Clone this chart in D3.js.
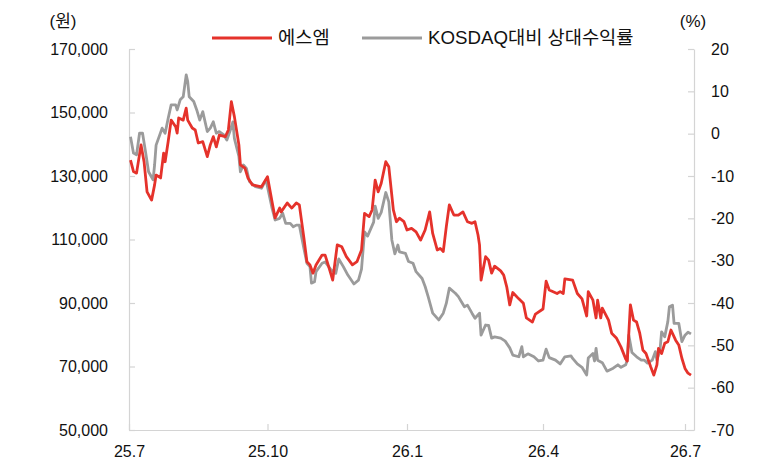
<!DOCTYPE html>
<html><head><meta charset="utf-8">
<script src="https://cdn.jsdelivr.net/npm/d3@7"></script>
<style>
body{margin:0;background:#fff}
svg text{font-family:"Liberation Sans",Arial,sans-serif;fill:#111}
</style>
</head><body>
<svg id="c" width="769" height="472"></svg>
<script>
// ---- data ----
const seriesNames = ["에스엠", "KOSDAQ대비 상대수익률"];

const redDates = ["2025-07-02","2025-07-04","2025-07-06","2025-07-09","2025-07-11","2025-07-13","2025-07-16","2025-07-18","2025-07-19","2025-07-22",
"2025-07-24","2025-07-25","2025-07-27","2025-07-29","2025-08-01","2025-08-02","2025-08-03","2025-08-06","2025-08-08","2025-08-09",
"2025-08-12","2025-08-14","2025-08-16","2025-08-19","2025-08-22","2025-08-24","2025-08-26","2025-08-28","2025-08-30","2025-09-03",
"2025-09-05","2025-09-07","2025-09-09","2025-09-12","2025-09-13","2025-09-16","2025-09-18","2025-09-21","2025-09-27","2025-10-01",
"2025-10-04","2025-10-06","2025-10-09","2025-10-10","2025-10-14","2025-10-17","2025-10-20","2025-10-22","2025-10-25","2025-10-27",
"2025-10-29","2025-10-31","2025-11-02","2025-11-06","2025-11-08","2025-11-10","2025-11-13","2025-11-16","2025-11-19","2025-11-22",
"2025-11-26","2025-11-29","2025-12-02","2025-12-04","2025-12-07","2025-12-09","2025-12-11","2025-12-13","2025-12-15","2025-12-18",
"2025-12-20","2025-12-23","2025-12-25","2025-12-27","2025-12-30","2026-01-01","2026-01-04","2026-01-07","2026-01-10","2026-01-13",
"2026-01-16","2026-01-18","2026-01-21","2026-01-23","2026-01-25","2026-01-27","2026-01-29","2026-02-01","2026-02-04","2026-02-07",
"2026-02-10","2026-02-13","2026-02-15","2026-02-17","2026-02-18","2026-02-19","2026-02-22","2026-02-24","2026-02-26","2026-02-28",
"2026-03-04","2026-03-06","2026-03-08","2026-03-10","2026-03-12","2026-03-16","2026-03-19","2026-03-21","2026-03-25","2026-03-27",
"2026-04-01","2026-04-03","2026-04-05","2026-04-10","2026-04-12","2026-04-14","2026-04-15","2026-04-20","2026-04-23","2026-04-26",
"2026-04-29","2026-04-30","2026-05-03","2026-05-05","2026-05-06","2026-05-08","2026-05-09","2026-05-13","2026-05-15","2026-05-18",
"2026-05-21","2026-05-24","2026-05-25","2026-05-27","2026-05-29","2026-05-31","2026-06-02","2026-06-04","2026-06-06","2026-06-09",
"2026-06-11","2026-06-13","2026-06-14","2026-06-16","2026-06-18","2026-06-20","2026-06-22","2026-06-25","2026-06-27","2026-06-29",
"2026-07-01","2026-07-03","2026-07-05"];
const redValues = [135000,131400,130900,139800,134500,125000,122400,127200,130300,129400,
137200,134500,140800,147600,145500,143500,148300,147600,151400,147600,
145100,144500,140400,140800,136100,139800,142400,139200,142900,142400,
144500,153400,148700,139800,133500,132500,129400,127200,126600,129800,
121900,116800,119900,118700,121500,119900,121500,120900,110500,103000,
102000,99400,102000,105100,105100,102000,97200,108300,107700,104600,
102000,103000,106700,118200,117200,119300,128700,125000,127700,134500,
132900,119300,115600,116700,115600,113000,113500,112400,109800,113000,
118700,111900,106700,107200,106200,114000,120900,117700,117700,118700,
115600,115100,115600,111400,108300,97200,104600,103500,99400,101600,
100100,98800,95100,89400,93300,91300,89900,85300,84000,86500,
88100,96900,94100,93000,93600,93000,97600,97200,93000,91300,
85900,93600,90900,85300,90900,85300,88400,84600,80500,79000,
76100,72400,71700,89400,84600,84000,80500,75200,74100,69900,
67300,70500,75700,74100,77300,77800,81500,78300,76800,72600,
69400,67900,67300];

const grayDates = ["2025-07-02","2025-07-04","2025-07-06","2025-07-08","2025-07-10","2025-07-12","2025-07-14","2025-07-17","2025-07-18","2025-07-19",
"2025-07-23","2025-07-25","2025-07-27","2025-07-29","2025-08-01","2025-08-02","2025-08-04","2025-08-06","2025-08-08","2025-08-09",
"2025-08-10","2025-08-13","2025-08-15","2025-08-17","2025-08-19","2025-08-22","2025-08-24","2025-08-26","2025-08-28","2025-08-30",
"2025-09-02","2025-09-04","2025-09-06","2025-09-08","2025-09-09","2025-09-12","2025-09-13","2025-09-15","2025-09-17","2025-09-19",
"2025-09-23","2025-09-27","2025-09-30","2025-10-04","2025-10-06","2025-10-09","2025-10-11","2025-10-13","2025-10-16","2025-10-18",
"2025-10-20","2025-10-22","2025-10-25","2025-10-27","2025-10-29","2025-10-30","2025-11-01","2025-11-02","2025-11-06","2025-11-08",
"2025-11-12","2025-11-15","2025-11-17","2025-11-20","2025-11-23","2025-11-27","2025-11-30","2025-12-02","2025-12-04","2025-12-06",
"2025-12-10","2025-12-11","2025-12-13","2025-12-15","2025-12-18","2025-12-20","2025-12-22","2025-12-24","2025-12-26","2025-12-27",
"2025-12-31","2026-01-02","2026-01-05","2026-01-07","2026-01-11","2026-01-13","2026-01-15","2026-01-18","2026-01-22","2026-01-25",
"2026-01-27","2026-01-29","2026-02-02","2026-02-04","2026-02-06","2026-02-08","2026-02-10","2026-02-13","2026-02-15","2026-02-18",
"2026-02-19","2026-02-22","2026-02-24","2026-02-26","2026-02-28","2026-03-04","2026-03-07","2026-03-10","2026-03-12","2026-03-16",
"2026-03-18","2026-03-19","2026-03-22","2026-03-26","2026-03-29","2026-04-01","2026-04-03","2026-04-05","2026-04-09","2026-04-12",
"2026-04-15","2026-04-19","2026-04-20","2026-04-23","2026-04-26","2026-04-29","2026-04-30","2026-05-03","2026-05-04","2026-05-05",
"2026-05-06","2026-05-09","2026-05-12","2026-05-16","2026-05-19","2026-05-21","2026-05-24","2026-05-25","2026-05-26","2026-05-28",
"2026-05-31","2026-06-03","2026-06-05","2026-06-07","2026-06-10","2026-06-12","2026-06-13","2026-06-15","2026-06-16","2026-06-18",
"2026-06-20","2026-06-21","2026-06-23","2026-06-24","2026-06-27","2026-06-29","2026-07-01","2026-07-03","2026-07-05"];
const grayValues = [-0.7,-4.6,-5.0,0.1,0.1,-4.3,-9.0,-10.9,-7.4,-2.7,
1.3,0.1,3.6,6.8,6.8,5.6,8.0,8.7,13.9,12.3,
8.7,7.6,5.6,3.2,5.2,0.5,1.3,2.8,0.1,0.5,
-0.3,-1.5,0.5,2.8,-1.1,-5.4,-9.0,-7.4,-8.2,-11.3,
-12.5,-12.9,-10.9,-17.6,-20.4,-20.0,-18.8,-21.2,-21.2,-22.0,
-21.6,-21.6,-27.1,-30.6,-31.4,-35.3,-35.0,-32.6,-30.6,-30.3,
-32.2,-33.0,-29.6,-31.4,-33.4,-35.5,-34.6,-32.0,-23.2,-24.2,
-20.9,-17.1,-20.0,-18.6,-13.9,-16.1,-25.1,-28.4,-26.3,-27.9,
-28.3,-30.2,-30.6,-32.6,-34.2,-36.1,-38.5,-42.4,-44.0,-42.4,
-40.1,-36.5,-37.7,-38.5,-39.7,-40.9,-40.5,-42.4,-43.6,-42.4,
-47.6,-45.2,-45.3,-48.3,-48.0,-48.3,-49.0,-50.6,-52.3,-52.7,
-50.3,-52.7,-52.0,-52.7,-53.7,-53.5,-50.9,-52.9,-53.5,-54.4,
-52.7,-52.5,-53.1,-54.4,-55.2,-57.0,-53.0,-51.9,-53.7,-50.7,
-53.5,-54.1,-56.1,-55.4,-54.6,-55.2,-54.6,-53.5,-47.6,-51.7,
-52.7,-53.5,-53.5,-54.2,-53.5,-51.5,-53.5,-51.1,-46.8,-48.0,
-44.4,-40.9,-40.5,-44.8,-44.8,-49.1,-47.6,-46.9,-47.3];

const xTickDates = ["2025-07-01","2025-10-01","2026-01-01","2026-04-01","2026-07-01"];
const xTickLabels = ["25.7","25.10","26.1","26.4","26.7"];
const leftTicks = [50000,70000,90000,110000,130000,150000,170000];
const rightTicks = [-70,-60,-50,-40,-30,-20,-10,0,10,20];
const leftUnit = "(원)", rightUnit = "(%)";

// ---- chart ----
const parse = d3.timeParse("%Y-%m-%d");
const svg = d3.select("#c");
const L = 129, R = 694, T = 49, B = 430;
const axisColor = "#d4d4d4";
const RED = "#e5322b", GRAY = "#9b9b9b";

const x = d3.scaleTime()
  .domain([...xTickDates.map(parse), parse("2026-07-07")])
  .range([L, 267.5, 407, 543, 685, R]);
const yL = d3.scaleLinear().domain([50000, 170000]).range([B, T]);
const yR = d3.scaleLinear().domain([-70, 20]).range([B, T]);

function styleAxis(g){
  g.selectAll(".domain").attr("stroke", axisColor).attr("stroke-width", 1.2);
  g.selectAll(".tick line").attr("stroke", axisColor).attr("stroke-width", 1.2);
  g.selectAll(".tick text").attr("font-size", 16).attr("fill", "#111")
    .attr("font-family", '"Liberation Sans",Arial,sans-serif');
}

svg.append("g").attr("transform", `translate(${L},0)`)
  .call(d3.axisLeft(yL).tickValues(leftTicks).tickSizeInner(-6).tickSizeOuter(0)
        .tickPadding(21).tickFormat(d3.format(",")))
  .call(styleAxis);

svg.append("g").attr("transform", `translate(${R},0)`)
  .call(d3.axisRight(yR).tickValues(rightTicks).tickSizeInner(-6).tickSizeOuter(0)
        .tickPadding(17).tickFormat(d => d))
  .call(styleAxis);

svg.append("g").attr("transform", `translate(0,${B})`)
  .call(d3.axisBottom(x).tickValues(xTickDates.map(parse)).tickSizeInner(-6).tickSizeOuter(0)
        .tickPadding(16).tickFormat((d, i) => xTickLabels[i]))
  .call(styleAxis);

svg.append("text").attr("x", 63).attr("y", 27).attr("text-anchor", "middle")
  .attr("font-size", 17).style("font-family", '"Liberation Sans","Noto Sans CJK KR",sans-serif').text(leftUnit);
svg.append("text").attr("x", 693).attr("y", 27).attr("text-anchor", "middle")
  .attr("font-size", 17).text(rightUnit);

const grayData = grayDates.map((d, i) => ({ d: parse(d), v: grayValues[i] }));
const redData = redDates.map((d, i) => ({ d: parse(d), v: redValues[i] }));

svg.append("path").datum(grayData)
  .attr("fill", "none").attr("stroke", GRAY).attr("stroke-width", 2.8)
  .attr("stroke-linejoin", "round")
  .attr("d", d3.line().x(p => x(p.d)).y(p => yR(p.v)));

svg.append("path").datum(redData)
  .attr("fill", "none").attr("stroke", RED).attr("stroke-width", 2.8)
  .attr("stroke-linejoin", "round")
  .attr("d", d3.line().x(p => x(p.d)).y(p => yL(p.v)));

// legend
const legend = [
  { name: seriesNames[0], color: RED, x: 212 },
  { name: seriesNames[1], color: GRAY, x: 362 }
];
legend.forEach(l => {
  svg.append("line").attr("x1", l.x).attr("x2", l.x + 60).attr("y1", 38).attr("y2", 38)
    .attr("stroke", l.color).attr("stroke-width", 3);
  svg.append("text").attr("x", l.x + 66).attr("y", 44).attr("font-size", 18.7)
    .style("font-family", '"Liberation Sans","Noto Sans CJK KR",sans-serif')
    .text(l.name);
});
</script>
</body></html>
